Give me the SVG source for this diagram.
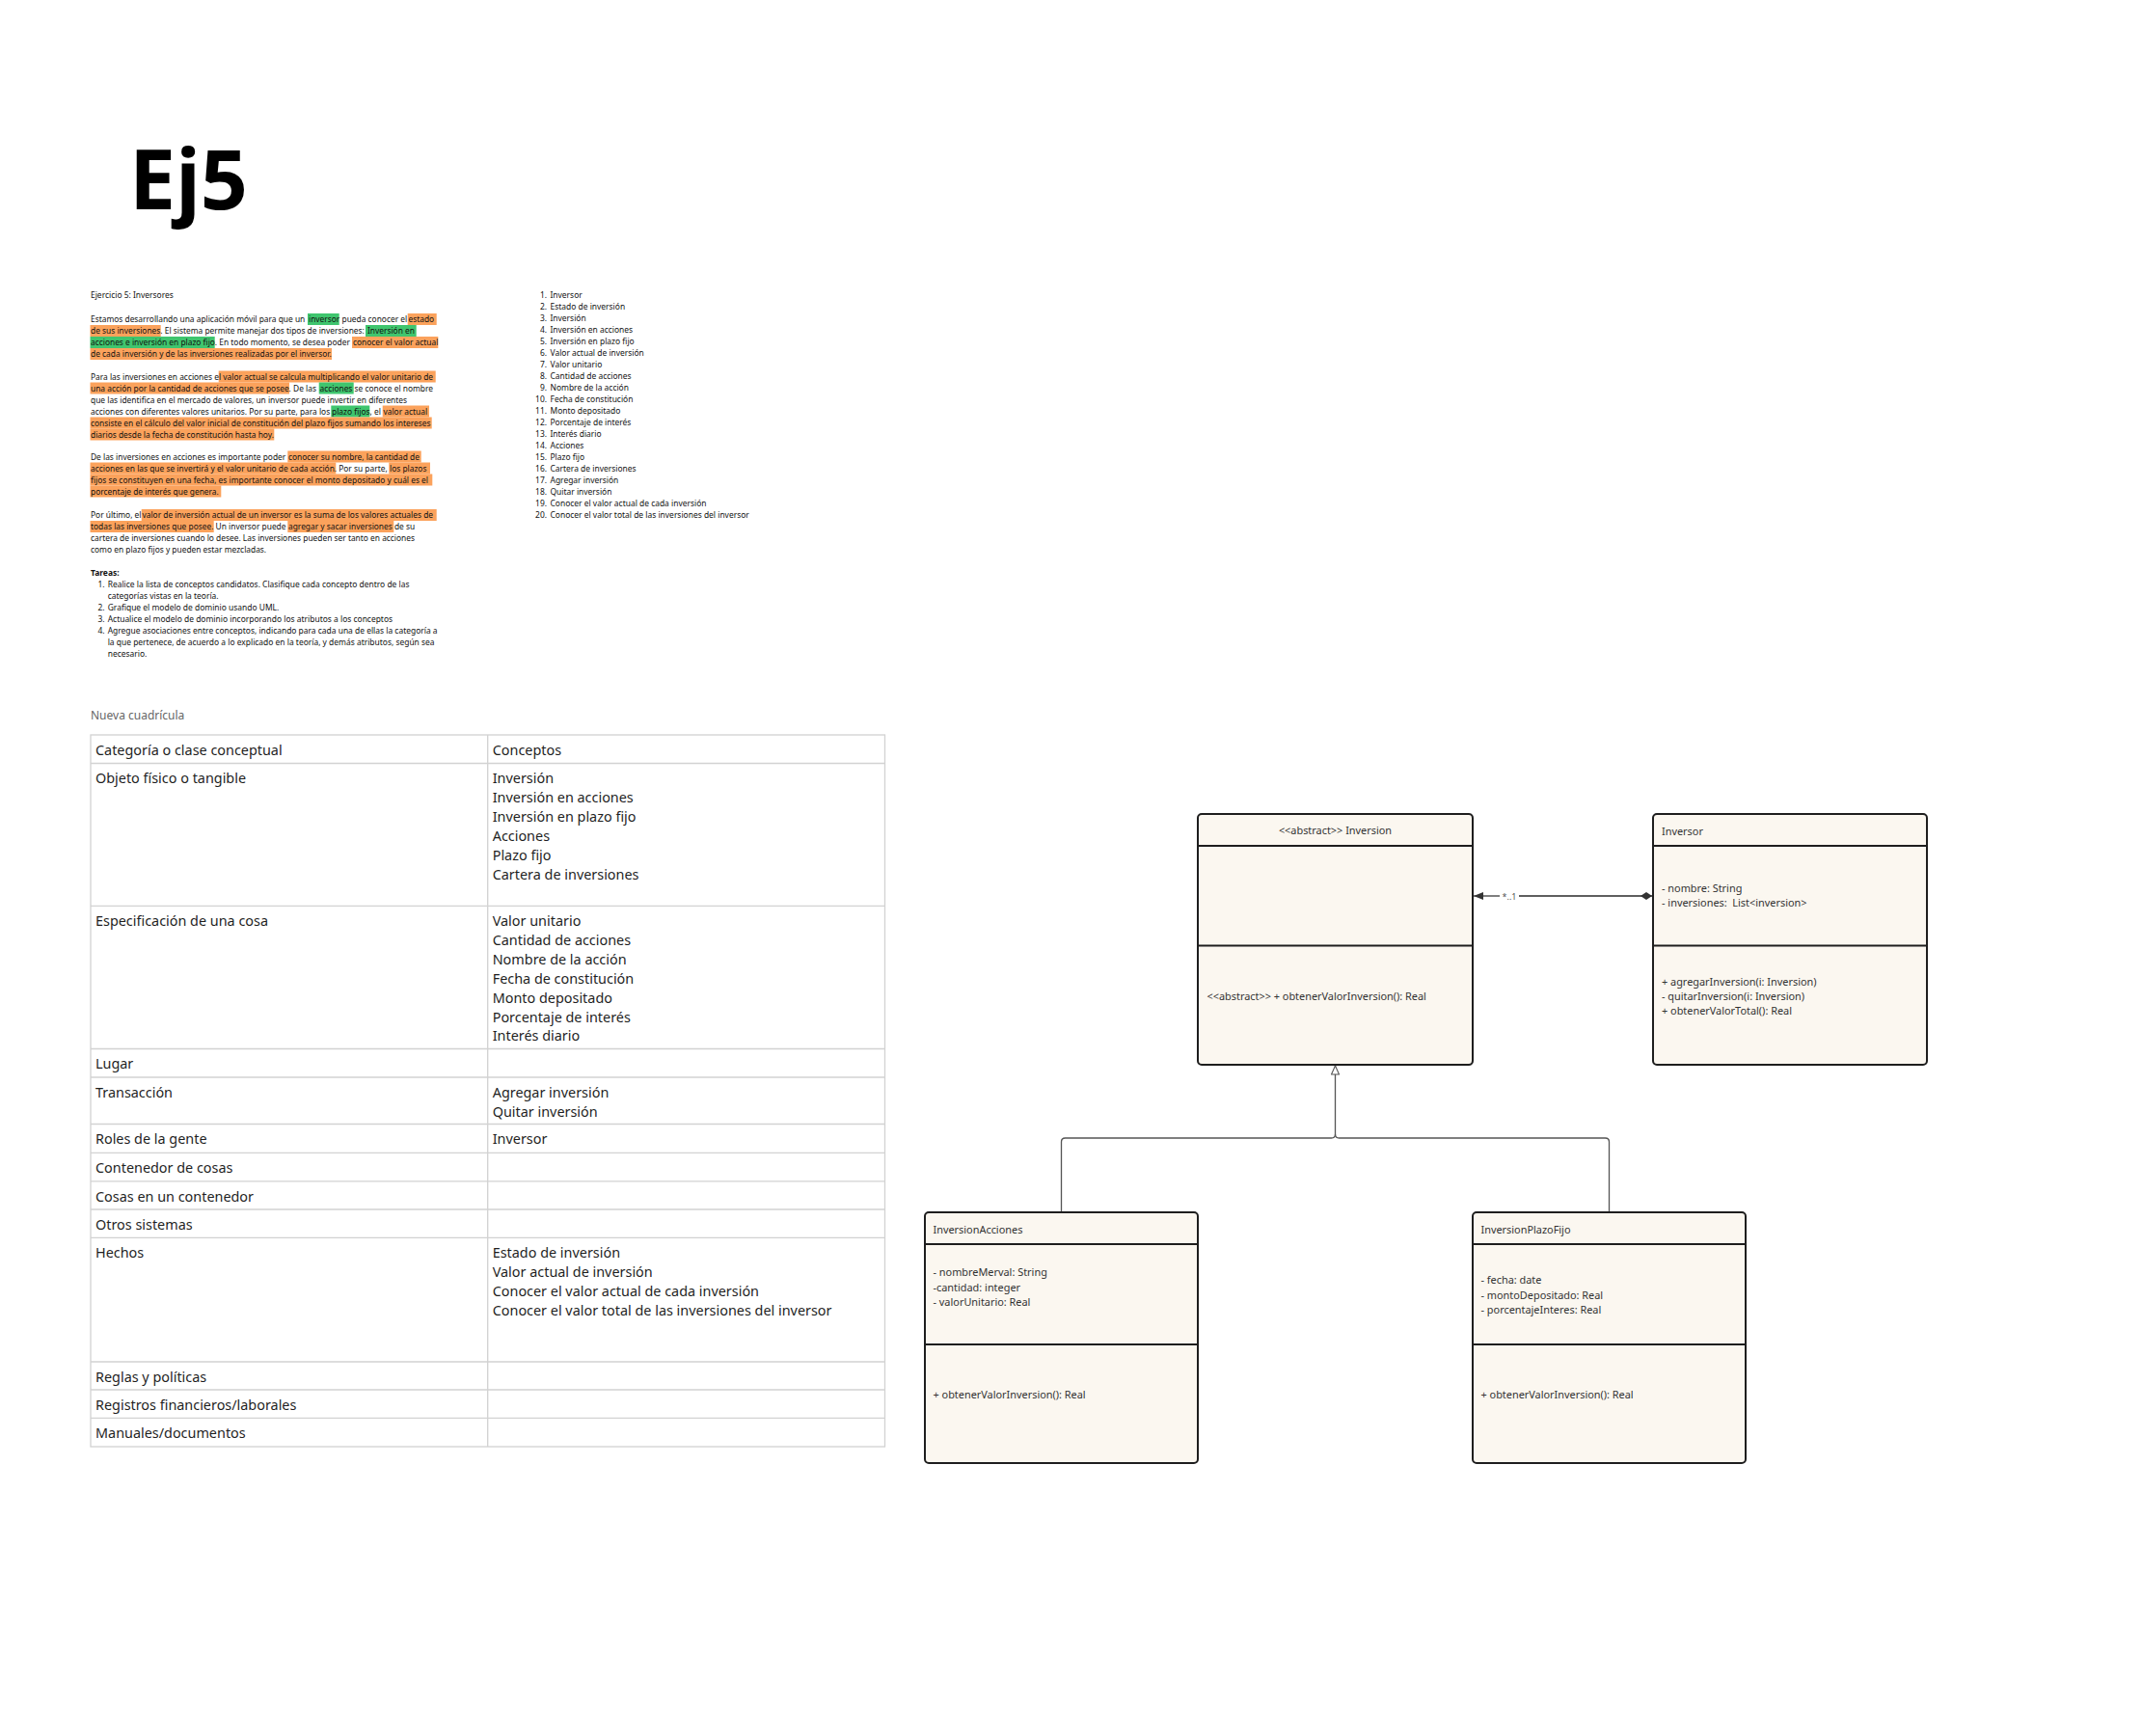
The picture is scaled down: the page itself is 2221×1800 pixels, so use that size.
<svg xmlns="http://www.w3.org/2000/svg" width="2221" height="1800" viewBox="0 0 2221 1800">
<style>
.t{font-family:"Noto Sans","Open Sans","DejaVu Sans",sans-serif;font-size:8.45px;fill:#111}
.p{font-size:8.4px}
.b{font-weight:700}
.hl-o{fill:#FBA25C}
.hl-g{fill:#3FC56E}
.tb{font-family:"Noto Sans","Open Sans","DejaVu Sans",sans-serif;font-size:14.4px;fill:#1f1f1f}
.grid{stroke:#d2d2d2;stroke-width:1.3;fill:none}
.box{fill:#FBF7F0;stroke:#1e1e1e;stroke-width:2}
.div{stroke:#1e1e1e;stroke-width:2}
.u{font-family:"Noto Sans","Open Sans","DejaVu Sans",sans-serif;font-size:10.9px;fill:#333;white-space:pre}
.con{stroke:#555;stroke-width:1.3;fill:none}
</style>
<defs>
<marker id="arrowFill" viewBox="0 0 10 8" refX="10" refY="4" markerWidth="10" markerHeight="8" markerUnits="userSpaceOnUse" orient="auto">
<path d="M0,0 L10,4 L0,8 Z" fill="#333"/>
</marker>
<marker id="diamond" viewBox="0 0 12 8" refX="12" refY="4" markerWidth="12" markerHeight="8" markerUnits="userSpaceOnUse" orient="auto">
<path d="M0,4 L6,0 L12,4 L6,8 Z" fill="#333"/>
</marker>
<marker id="triOpen" viewBox="0 0 10 9" refX="9.5" refY="4.5" markerWidth="10" markerHeight="9" markerUnits="userSpaceOnUse" orient="auto">
<path d="M0.5,0.5 L9.5,4.5 L0.5,8.5 Z" fill="#fff" stroke="#555" stroke-width="1.1"/>
</marker>
</defs>
<rect width="2221" height="1800" fill="#ffffff"/>

<g id="title">
<text x="134" y="217" style="font-family:'Noto Sans','Open Sans',sans-serif;font-size:86px;font-weight:700;fill:#000">Ej5</text>
</g>

<g id="enunciado">
<rect class="hl-g" x="319" y="325" width="32.7" height="12"/>
<rect class="hl-o" x="422.7" y="325" width="30" height="12"/>
<rect class="hl-o" x="93.5" y="337" width="73.2" height="12"/>
<rect class="hl-g" x="379" y="337" width="52.7" height="12"/>
<rect class="hl-g" x="93.5" y="349" width="129.2" height="12"/>
<rect class="hl-o" x="365" y="349" width="89.3" height="12"/>
<rect class="hl-o" x="93.5" y="361" width="250.5" height="12"/>
<rect class="hl-o" x="226.7" y="384.5" width="225" height="12"/>
<rect class="hl-o" x="93.5" y="396.5" width="206.5" height="12"/>
<rect class="hl-g" x="330.7" y="396.5" width="36" height="12"/>
<rect class="hl-g" x="343.3" y="420.5" width="40" height="12"/>
<rect class="hl-o" x="396.7" y="420.5" width="48.3" height="12"/>
<rect class="hl-o" x="93.5" y="432.5" width="354.2" height="12"/>
<rect class="hl-o" x="93.5" y="444.5" width="190.8" height="12"/>
<rect class="hl-o" x="298.3" y="467.5" width="138.4" height="12"/>
<rect class="hl-o" x="93.5" y="479.5" width="254.8" height="12"/>
<rect class="hl-o" x="403.3" y="479.5" width="42.7" height="12"/>
<rect class="hl-o" x="93.5" y="491.5" width="354.8" height="12"/>
<rect class="hl-o" x="93.5" y="503.5" width="135.8" height="12"/>
<rect class="hl-o" x="146.7" y="528" width="306" height="12"/>
<rect class="hl-o" x="93.5" y="540" width="128.2" height="12"/>
<rect class="hl-o" x="298.3" y="540" width="110" height="12"/>

<text class="t" x="94" y="309">Ejercicio 5: Inversores</text>
<text class="t p" x="94" y="334">Estamos desarrollando una aplicación móvil para que un <tspan x="320">inversor</tspan> pueda conocer el <tspan x="423.5">estado</tspan></text>
<text class="t p" x="94" y="346">de sus inversiones. El sistema permite manejar dos tipos de inversiones: <tspan x="381">Inversión en</tspan></text>
<text class="t p" x="94" y="358">acciones e inversión en plazo fijo. En todo momento, se desea poder <tspan x="366">conocer el valor actual</tspan></text>
<text class="t p" x="94" y="370">de cada inversión y de las inversiones realizadas por el inversor.</text>
<text class="t p" x="94" y="393.5">Para las inversiones en acciones e<tspan x="227">l valor actual se calcula multiplicando el valor unitario de</tspan></text>
<text class="t p" x="94" y="405.5">una acción por la cantidad de acciones que se posee. De las <tspan x="331.5">acciones</tspan> se conoce el nombre</text>
<text class="t p" x="94" y="417.5">que las identifica en el mercado de valores, un inversor puede invertir en diferentes</text>
<text class="t p" x="94" y="429.5">acciones con diferentes valores unitarios. Por su parte, para los <tspan x="344">plazo fijos</tspan>, el <tspan x="397.5">valor actual</tspan></text>
<text class="t p" x="94" y="441.5">consiste en el cálculo del valor inicial de constitución del plazo fijos sumando los intereses</text>
<text class="t p" x="94" y="453.5">diarios desde la fecha de constitución hasta hoy.</text>
<text class="t p" x="94" y="476.5">De las inversiones en acciones es importante poder <tspan x="299">conocer su nombre, la cantidad de</tspan></text>
<text class="t p" x="94" y="488.5">acciones en las que se invertirá y el valor unitario de cada acción. Por su parte, <tspan x="404">los plazos</tspan></text>
<text class="t p" x="94" y="500.5">fijos se constituyen en una fecha, es importante conocer el monto depositado y cuál es el</text>
<text class="t p" x="94" y="512.5">porcentaje de interés que genera.</text>
<text class="t p" x="94" y="537">Por último, el <tspan x="147.5">valor de inversión actual de un inversor es la suma de los valores actuales de</tspan></text>
<text class="t p" x="94" y="549">todas las inversiones que posee. Un inversor puede <tspan x="299">agregar y sacar inversiones</tspan> de su</text>
<text class="t p" x="94" y="561">cartera de inversiones cuando lo desee. Las inversiones pueden ser tanto en acciones</text>
<text class="t p" x="94" y="573">como en plazo fijos y pueden estar mezcladas.</text>
<text class="t b" x="94" y="597">Tareas:</text>
<text class="t" x="101.5" y="609">1.</text>
<text class="t" x="111.7" y="609">Realice la lista de conceptos candidatos. Clasifique cada concepto dentro de las</text>
<text class="t" x="111.7" y="621">categorías vistas en la teoría.</text>
<text class="t" x="101.5" y="633">2.</text>
<text class="t" x="111.7" y="633">Grafique el modelo de dominio usando UML.</text>
<text class="t" x="101.5" y="645">3.</text>
<text class="t" x="111.7" y="645">Actualice el modelo de dominio incorporando los atributos a los conceptos</text>
<text class="t" x="101.5" y="657">4.</text>
<text class="t" x="111.7" y="657">Agregue asociaciones entre conceptos, indicando para cada una de ellas la categoría a</text>
<text class="t" x="111.7" y="669">la que pertenece, de acuerdo a lo explicado en la teoría, y demás atributos, según sea</text>
<text class="t" x="111.7" y="681">necesario.</text>
</g>

<g id="lista">
<g class="t" text-anchor="end">
<text x="567" y="309">1.</text><text x="567" y="321">2.</text><text x="567" y="333">3.</text><text x="567" y="345">4.</text><text x="567" y="357">5.</text>
<text x="567" y="369">6.</text><text x="567" y="381">7.</text><text x="567" y="393">8.</text><text x="567" y="405">9.</text><text x="567" y="417">10.</text>
<text x="567" y="429">11.</text><text x="567" y="441">12.</text><text x="567" y="453">13.</text><text x="567" y="465">14.</text><text x="567" y="477">15.</text>
<text x="567" y="489">16.</text><text x="567" y="501">17.</text><text x="567" y="513">18.</text><text x="567" y="525">19.</text><text x="567" y="537">20.</text>
</g>
<g class="t">
<text x="570.5" y="309">Inversor</text>
<text x="570.5" y="321">Estado de inversión</text>
<text x="570.5" y="333">Inversión</text>
<text x="570.5" y="345">Inversión en acciones</text>
<text x="570.5" y="357">Inversión en plazo fijo</text>
<text x="570.5" y="369">Valor actual de inversión</text>
<text x="570.5" y="381">Valor unitario</text>
<text x="570.5" y="393">Cantidad de acciones</text>
<text x="570.5" y="405">Nombre de la acción</text>
<text x="570.5" y="417">Fecha de constitución</text>
<text x="570.5" y="429">Monto depositado</text>
<text x="570.5" y="441">Porcentaje de interés</text>
<text x="570.5" y="453">Interés diario</text>
<text x="570.5" y="465">Acciones</text>
<text x="570.5" y="477">Plazo fijo</text>
<text x="570.5" y="489">Cartera de inversiones</text>
<text x="570.5" y="501">Agregar inversión</text>
<text x="570.5" y="513">Quitar inversión</text>
<text x="570.5" y="525">Conocer el valor actual de cada inversión</text>
<text x="570.5" y="537">Conocer el valor total de las inversiones del inversor</text>
</g>
</g>

<g id="tabla">
<text x="94" y="746" style="font-family:'Noto Sans','Open Sans',sans-serif;font-size:12px;fill:#666">Nueva cuadrícula</text>
<rect class="grid" x="94" y="762" width="823.5" height="738"/>
<path class="grid" d="M505.7,762 V1500 M94,791.5 H917.5 M94,939.3 H917.5 M94,1087.5 H917.5 M94,1117 H917.5 M94,1165.5 H917.5 M94,1195.3 H917.5 M94,1224.8 H917.5 M94,1254 H917.5 M94,1283.3 H917.5 M94,1412 H917.5 M94,1441 H917.5 M94,1470.4 H917.5"/>
<g class="tb">
<text x="99" y="782.5">Categoría o clase conceptual</text>
<text x="510.7" y="782.5">Conceptos</text>
<text x="99" y="812">Objeto físico o tangible</text>
<text x="510.7" y="812">Inversión</text>
<text x="510.7" y="831.9">Inversión en acciones</text>
<text x="510.7" y="851.8">Inversión en plazo fijo</text>
<text x="510.7" y="871.7">Acciones</text>
<text x="510.7" y="891.6">Plazo fijo</text>
<text x="510.7" y="911.5">Cartera de inversiones</text>
<text x="99" y="960">Especificación de una cosa</text>
<text x="510.7" y="960">Valor unitario</text>
<text x="510.7" y="979.9">Cantidad de acciones</text>
<text x="510.7" y="999.8">Nombre de la acción</text>
<text x="510.7" y="1019.7">Fecha de constitución</text>
<text x="510.7" y="1039.6">Monto depositado</text>
<text x="510.7" y="1059.5">Porcentaje de interés</text>
<text x="510.7" y="1079.4">Interés diario</text>
<text x="99" y="1108">Lugar</text>
<text x="99" y="1137.8">Transacción</text>
<text x="510.7" y="1137.8">Agregar inversión</text>
<text x="510.7" y="1157.7">Quitar inversión</text>
<text x="99" y="1186.2">Roles de la gente</text>
<text x="510.7" y="1186.2">Inversor</text>
<text x="99" y="1216">Contenedor de cosas</text>
<text x="99" y="1245.5">Cosas en un contenedor</text>
<text x="99" y="1274.7">Otros sistemas</text>
<text x="99" y="1304">Hechos</text>
<text x="510.7" y="1304">Estado de inversión</text>
<text x="510.7" y="1323.9">Valor actual de inversión</text>
<text x="510.7" y="1343.8">Conocer el valor actual de cada inversión</text>
<text x="510.7" y="1363.7">Conocer el valor total de las inversiones del inversor</text>
<text x="99" y="1432.7">Reglas y políticas</text>
<text x="99" y="1461.7">Registros financieros/laborales</text>
<text x="99" y="1491">Manuales/documentos</text>
</g>
</g>

<g id="connectors">
<path class="con" d="M1714,929 H1575 M1555,929 H1528" marker-end="url(#arrowFill)"/>
<path class="con" d="M1575,929 H1713" marker-end="url(#diamond)"/>
<text x="1565" y="932.5" text-anchor="middle" style="font-family:'Noto Sans','Open Sans',sans-serif;font-size:9px;fill:#555">*..1</text>
<path class="con" d="M1100.5,1257 V1184 Q1100.5,1180 1104.5,1180 H1380.5 Q1384.5,1180 1384.5,1176"/>
<path class="con" d="M1668.5,1257 V1184 Q1668.5,1180 1664.5,1180 H1388.5 Q1384.5,1180 1384.5,1176"/>
<path class="con" d="M1384.5,1176 V1105" marker-end="url(#triOpen)"/>
</g>

<g id="node-inversion">
<rect class="box" x="1242" y="844" width="285" height="260" rx="4"/>
<path class="div" d="M1242,877 H1527 M1242,980.5 H1527"/>
<text class="u" x="1384.5" y="865" text-anchor="middle">&lt;&lt;abstract&gt;&gt; Inversion</text>
<text class="u" x="1251.5" y="1037">&lt;&lt;abstract&gt;&gt; + obtenerValorInversion(): Real</text>
</g>

<g id="node-inversor">
<rect class="box" x="1714" y="844" width="284" height="260" rx="4"/>
<path class="div" d="M1714,877 H1998 M1714,980.5 H1998"/>
<text class="u" x="1723" y="865.5">Inversor</text>
<text class="u" x="1723" y="925">- nombre: String</text>
<text class="u" x="1723" y="940.3">- inversiones:  List&lt;inversion&gt;</text>
<text class="u" x="1723" y="1021.5">+ agregarInversion(i: Inversion)</text>
<text class="u" x="1723" y="1036.8">- quitarInversion(i: Inversion)</text>
<text class="u" x="1723" y="1052.1">+ obtenerValorTotal(): Real</text>
</g>

<g id="node-inversion-acciones">
<rect class="box" x="959" y="1257" width="283" height="260" rx="4"/>
<path class="div" d="M959,1290 H1242 M959,1394 H1242"/>
<text class="u" x="967.5" y="1279">InversionAcciones</text>
<text class="u" x="967.5" y="1323.3">- nombreMerval: String</text>
<text class="u" x="967.5" y="1338.6">-cantidad: integer</text>
<text class="u" x="967.5" y="1353.9">- valorUnitario: Real</text>
<text class="u" x="967.5" y="1450.3">+ obtenerValorInversion(): Real</text>
</g>

<g id="node-inversion-plazofijo">
<rect class="box" x="1527" y="1257" width="283" height="260" rx="4"/>
<path class="div" d="M1527,1290 H1810 M1527,1394 H1810"/>
<text class="u" x="1535.5" y="1279">InversionPlazoFijo</text>
<text class="u" x="1535.5" y="1331.3">- fecha: date</text>
<text class="u" x="1535.5" y="1346.6">- montoDepositado: Real</text>
<text class="u" x="1535.5" y="1361.9">- porcentajeInteres: Real</text>
<text class="u" x="1535.5" y="1450.3">+ obtenerValorInversion(): Real</text>
</g>
</svg>
